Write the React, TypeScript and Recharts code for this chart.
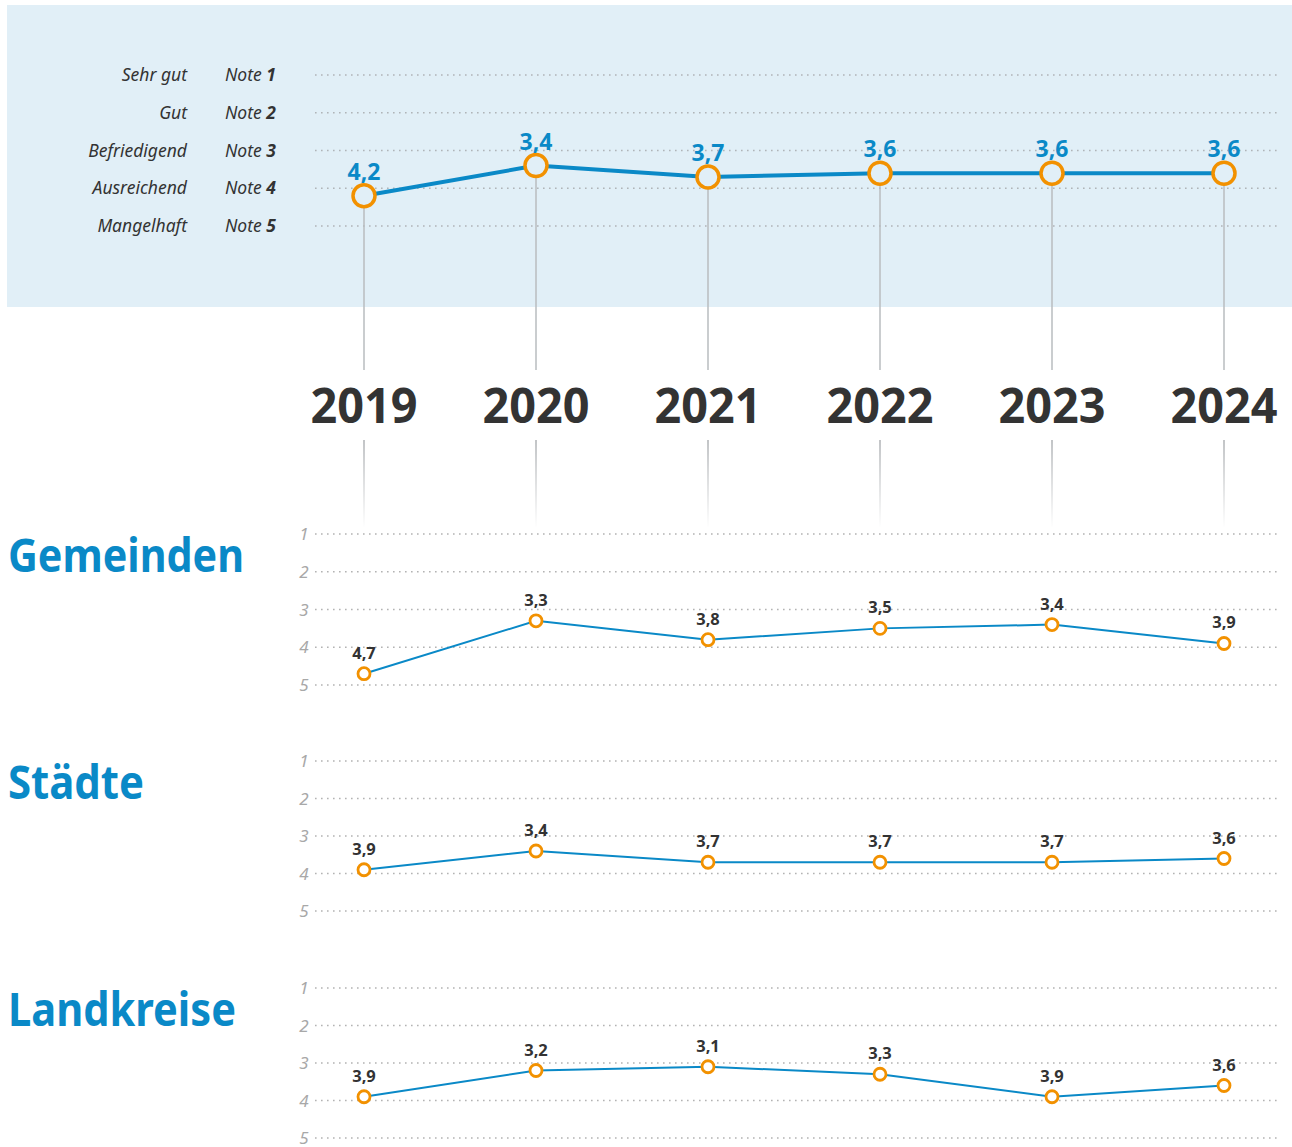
import React from 'react';
import { LineChart, Line, XAxis, YAxis, CartesianGrid, LabelList } from 'recharts';

const YEARS = ['2019', '2020', '2021', '2022', '2023', '2024'];
const GESAMT = [4.2, 3.4, 3.7, 3.6, 3.6, 3.6];
const GEMEINDEN = [4.7, 3.3, 3.8, 3.5, 3.4, 3.9];
const STAEDTE = [3.9, 3.4, 3.7, 3.7, 3.7, 3.6];
const LANDKREISE = [3.9, 3.2, 3.1, 3.3, 3.9, 3.6];
const NOTES = [1, 2, 3, 4, 5];
const NOTE_LABELS = ['Sehr gut', 'Gut', 'Befriedigend', 'Ausreichend', 'Mangelhaft'];
const PANELS = [
  { title: 'Gemeinden', values: GEMEINDEN, gridTop: 534, gridH: 151, titleW: 236 },
  { title: 'Städte', values: STAEDTE, gridTop: 761, gridH: 150, titleW: 136 },
  { title: 'Landkreise', values: LANDKREISE, gridTop: 988, gridH: 150, titleW: 228 },
];

const BLUE = '#0a89c7';
const ORANGE = '#f29100';
const BG = '#e1eff7';
const FONT = '"Noto Sans", sans-serif';

const fmt = (v: number) => v.toFixed(1).replace('.', ',');
const build = (vals: number[]) => YEARS.map((y, i) => ({ year: y, value: vals[i] }));

const TOP_H = 530;
const TOP_MARGIN = { top: 75, right: 12, bottom: 0, left: 0 };
const LINE_END = 370;

const TopDot = (props: any) => {
  const { cx, cy, index } = props;
  return (
    <g key={`d${index}`}>
      <line x1={cx} y1={cy} x2={cx} y2={LINE_END} stroke="#b9bcbf" strokeWidth={1.5} />
      <circle cx={cx} cy={cy} r={11} fill={BG} stroke={ORANGE} strokeWidth={3.5} />
    </g>
  );
};

const SmallDot = (props: any) => {
  const { cx, cy, index } = props;
  return <circle key={`s${index}`} cx={cx} cy={cy} r={6} fill="#fff" stroke={ORANGE} strokeWidth={2.8} />;
};

const NoteTick = (props: any) => {
  const { y, payload } = props;
  const v = payload.value as number;
  return (
    <g>
      <text x={187} y={y} dy={6} textAnchor="end" fontFamily={FONT} fontStyle="italic" fontSize={17.5} fill="#333">
        {NOTE_LABELS[v - 1]}
      </text>
      <text x={225} y={y} dy={6} textAnchor="start" fontFamily={FONT} fontStyle="italic" fontSize={17.5} fill="#333">
        Note <tspan fontWeight="bold">{v}</tspan>
      </text>
    </g>
  );
};

const SmallTick = (props: any) => {
  const { y, payload } = props;
  return (
    <text x={304} y={y} dy={6} textAnchor="middle" fontFamily={FONT} fontStyle="italic" fontSize={17} fill="#a8a8a8">
      {payload.value}
    </text>
  );
};

const YearTick = (props: any) => {
  const { x, payload, index } = props;
  const id = `fade${index}`;
  return (
    <g>
      <defs>
        <linearGradient id={id} x1="0" y1="0" x2="0" y2="1">
          <stop offset="0%" stopColor="#aeb1b4" />
          <stop offset="100%" stopColor="#ffffff" />
        </linearGradient>
      </defs>
      <text x={x} y={423} textAnchor="middle" fontFamily={FONT} fontWeight="bold" fontSize={48} fill="#333" textLength={107} lengthAdjust="spacingAndGlyphs">
        {payload.value}
      </text>
      <rect x={x - 0.75} y={440} width={1.5} height={88} fill={`url(#${id})`} />
    </g>
  );
};

const SmallChart = ({ values, gridTop, gridH }: { values: number[]; gridTop: number; gridH: number }) => {
  const mt = 40;
  const mb = 20;
  return (
    <div style={{ position: 'absolute', left: 0, top: gridTop - mt }}>
      <LineChart width={1292} height={gridH + mt + mb} data={build(values)} margin={{ top: mt, right: 12, bottom: mb, left: 0 }}>
        <CartesianGrid vertical={false} stroke="#b3b3b3" strokeDasharray="1.6 4.4" strokeWidth={1.6} />
        <XAxis dataKey="year" hide padding={{ left: 49, right: 56 }} />
        <YAxis
          domain={[1, 5]}
          reversed
          ticks={NOTES}
          width={315}
          axisLine={false}
          tickLine={false}
          tick={<SmallTick />}
          interval={0}
        />
        <Line dataKey="value" stroke={BLUE} strokeWidth={2} dot={<SmallDot />} activeDot={false} isAnimationActive={false}>
          <LabelList dataKey="value" position="top" offset={15} formatter={(v: any) => fmt(v)} fill="#333" fontSize={16.5} fontWeight="bold" fontFamily={FONT} />
        </Line>
      </LineChart>
    </div>
  );
};

export default function App() {
  return (
    <div style={{ position: 'absolute', left: 0, top: 0, width: 1292, height: 1147, background: '#fff', fontFamily: FONT }}>
      <div style={{ position: 'absolute', left: 7, top: 5, width: 1285, height: 302, background: BG }} />
      <div style={{ position: 'absolute', left: 0, top: 0 }}>
        <LineChart width={1292} height={TOP_H} data={build(GESAMT)} margin={TOP_MARGIN}>
          <CartesianGrid vertical={false} stroke="#b0b4b8" strokeDasharray="1.6 4.4" strokeWidth={1.6} />
          <XAxis
            dataKey="year"
            padding={{ left: 49, right: 56 }}
            height={TOP_H - 226}
            axisLine={false}
            tickLine={false}
            interval={0}
            tick={<YearTick />}
          />
          <YAxis domain={[1, 5]} reversed ticks={NOTES} width={315} axisLine={false} tickLine={false} interval={0} tick={<NoteTick />} />
          <Line dataKey="value" stroke={BLUE} strokeWidth={4} dot={<TopDot />} activeDot={false} isAnimationActive={false}>
            <LabelList dataKey="value" position="top" offset={16} formatter={(v: any) => fmt(v)} fill={BLUE} fontSize={23} fontWeight="bold" fontFamily={FONT} />
          </Line>
        </LineChart>
      </div>
      {PANELS.map((p) => (
        <SmallChart key={p.title} values={p.values} gridTop={p.gridTop} gridH={p.gridH} />
      ))}
      <svg width={1292} height={1147} style={{ position: 'absolute', left: 0, top: 0, pointerEvents: 'none' }}>
        {PANELS.map((p) => (
          <text
            key={p.title}
            x={8}
            y={p.gridTop + 38}
            fontFamily={FONT}
            fontWeight="bold"
            fontSize={47}
            fill="#0a89c7"
            textLength={p.titleW}
            lengthAdjust="spacingAndGlyphs"
          >
            {p.title}
          </text>
        ))}
      </svg>
    </div>
  );
}
